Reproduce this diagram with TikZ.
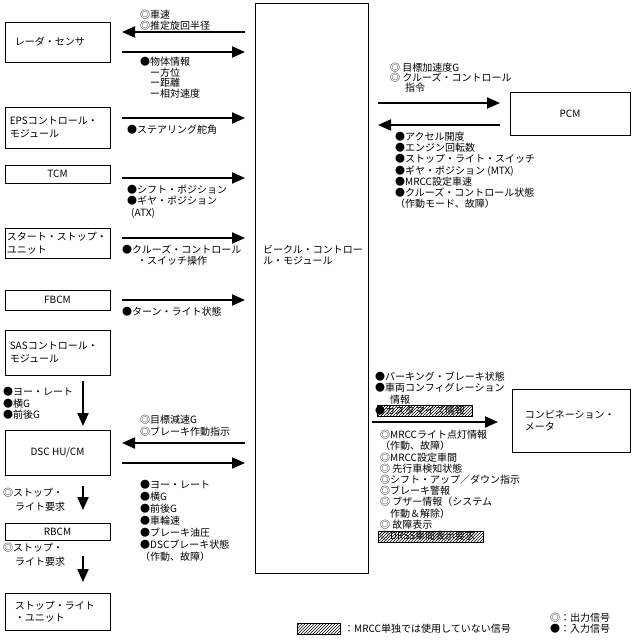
\documentclass[tikz,border=0pt]{standalone}
\usepackage{fontspec}
\setmainfont{Noto Sans CJK JP}
\usetikzlibrary{arrows.meta,patterns,positioning}

\begin{document}
\begin{tikzpicture}[x=1pt,y=-1pt,
  unit/.style={draw, line width=0.9pt, inner sep=0pt, font=\fontsize{10}{12.5}\selectfont},
  txt/.style={inner sep=0pt, align=left, font=\fontsize{10}{12.5}\selectfont},
  lst/.style={inner sep=0pt, align=left, anchor=north west, font=\fontsize{10}{#1}\selectfont},
  lst/.default=11.2,
  sig/.style={line width=2pt, -{Triangle[length=13pt,width=11pt]}},
  hatch/.style={draw, line width=0.5pt, pattern=north east lines}]
\useasboundingbox (0,0) rectangle (634,644);

% units on the left
\node[unit, minimum width=105pt, minimum height=40pt] (radar) at (57.5,42) {};
\node[txt, right=10pt of radar.west] {レーダ・センサ};
\node[unit, minimum width=105pt, minimum height=41pt] (eps) at (57.5,127.5) {};
\node[txt, right=5pt of eps.west] {EPSコントロール・\\モジュール};
\node[unit, minimum width=105pt, minimum height=18pt] (tcm) at (57.5,174) {TCM};
\node[unit, minimum width=105pt, minimum height=30pt] (ssu) at (57.5,243) {};
\node[txt, right=2pt of ssu.west] {スタート・ストップ・\\ユニット};
\node[unit, minimum width=105pt, minimum height=20pt] (fbcm) at (57.5,300) {FBCM};
\node[unit, minimum width=105pt, minimum height=45pt] (sas) at (57.5,352.5) {};
\node[txt, right=5pt of sas.west] {SASコントロール・\\モジュール};
\node[unit, minimum width=105pt, minimum height=45pt] (dsc) at (57.5,452.5) {DSC HU/CM};
\node[unit, minimum width=105pt, minimum height=17pt] (rbcm) at (57.5,531.5) {RBCM};
\node[unit, minimum width=105pt, minimum height=37pt] (slu) at (57.5,611.5) {};
\node[txt, right=10pt of slu.west] {ストップ・ライト\\・ユニット};

% vehicle control module and the units on the right
\node[unit, minimum width=113pt, minimum height=570pt] (vcm) at (311.5,288) {};
\node[lst=11] (vcmtext) at (263,245) {ビークル・コントロー\\ル・モジュール};
\node[unit, minimum width=120pt, minimum height=43pt] (pcm) at (570,113.5) {PCM};
\node[unit, minimum width=118pt, minimum height=63pt] (meter) at (571,420.5) {};
\node[txt, right=13pt of meter.west] {コンビネーション・\\メータ};

% signal arrows
\coordinate (r1) at (245,32);  \coordinate (r2) at (122,32);
\coordinate (r3) at (122,52);  \coordinate (r4) at (245,52);
\coordinate (e1) at (122,118); \coordinate (e2) at (245,118);
\coordinate (t1) at (122,178); \coordinate (t2) at (245,178);
\coordinate (s1) at (122,238); \coordinate (s2) at (245,238);
\coordinate (f1) at (122,300); \coordinate (f2) at (245,300);
\coordinate (d1) at (245,443); \coordinate (d2) at (122,443);
\coordinate (d3) at (122,463); \coordinate (d4) at (245,463);
\coordinate (p1) at (378,103); \coordinate (p2) at (500,103);
\coordinate (p3) at (500,125); \coordinate (p4) at (378,125);
\coordinate (m1) at (372,422); \coordinate (m2) at (498,422);
\coordinate (v1) at (83,381);  \coordinate (v2) at (83,426);
\coordinate (v3) at (83,486);  \coordinate (v4) at (83,510);
\coordinate (v5) at (83,556);  \coordinate (v6) at (83,582);
\draw[sig] (r1) -- (r2);
\draw[sig] (r3) -- (r4);
\draw[sig] (e1) -- (e2);
\draw[sig] (t1) -- (t2);
\draw[sig] (s1) -- (s2);
\draw[sig] (f1) -- (f2);
\draw[sig] (d1) -- (d2);
\draw[sig] (d3) -- (d4);
\draw[sig] (p1) -- (p2);
\draw[sig] (p3) -- (p4);
\draw[sig] (m1) -- (m2);
\draw[sig] (v1) -- (v2);
\draw[sig] (v3) -- (v4);
\draw[sig] (v5) -- (v6);

% hatched signals
\draw[hatch] (377,405) rectangle (472,416);
\draw[hatch] (378,531) rectangle (483,542);
\draw[hatch] (297,623) rectangle (340,634);

% signal labels
\node[lst=10.5] at (140,10) {◎車速\\◎推定旋回半径};
\node[lst=10.7] at (140,57) {●物体情報\\\hspace*{10pt}ー方位\\\hspace*{10pt}ー距離\\\hspace*{10pt}ー相対速度};
\node[txt, anchor=west] at (127,130) {●ステアリング舵角};
\node[lst] at (127,185) {●シフト・ポジション\\●ギヤ・ポジション\\\hspace*{4pt}(ATX)};
\node[lst] at (122,245) {●クルーズ・コントロール\\\hspace*{15pt}・スイッチ操作};
\node[txt, anchor=west] at (122,312) {●ターン・ライト状態};
\node[lst=11.5] at (3,387) {●ヨー・レート\\●横G\\●前後G};
\node[lst=12] at (140,415) {◎目標減速G\\◎ブレーキ作動指示};
\node[lst=12] at (140,480) {●ヨー・レート\\●横G\\●前後G\\●車輪速\\●ブレーキ油圧\\●DSCブレーキ状態\\（作動、故障）};
\node[lst=14] at (3,488) {◎ストップ・\\\hspace*{12pt}ライト要求};
\node[lst=14] at (3,543) {◎ストップ・\\\hspace*{12pt}ライト要求};
\node[lst=10] at (390,63) {◎ 目標加速度G\\◎ クルーズ・コントロール\\\hspace*{15pt}指令};
\node[lst] at (395,132) {●アクセル開度\\●エンジン回転数\\●ストップ・ライト・スイッチ\\●ギヤ・ポジション (MTX)\\●MRCC設定車速\\●クルーズ・コントロール状態\\（作動モード、故障）};
\node[lst] at (375,372) {●パーキング・ブレーキ状態\\●車両コンフィグレーション\\\hspace*{15pt}情報\\●カスタマイズ情報};
\node[lst] at (380,430) {◎MRCCライト点灯情報\\（作動、故障）\\◎MRCC設定車間\\◎ 先行車検知状態\\◎シフト・アップ／ダウン指示\\◎ブレーキ警報\\◎ ブザー情報（システム\\\hspace*{10pt}作動＆解除）\\◎ 故障表示\\◎DRSS車間表示要求};

% legend
\node[txt, anchor=west] at (344,629) {：MRCC単独では使用していない信号};
\node[lst=11] at (550,613) {◎：出力信号\\●：入力信号};
\end{tikzpicture}
\end{document}
